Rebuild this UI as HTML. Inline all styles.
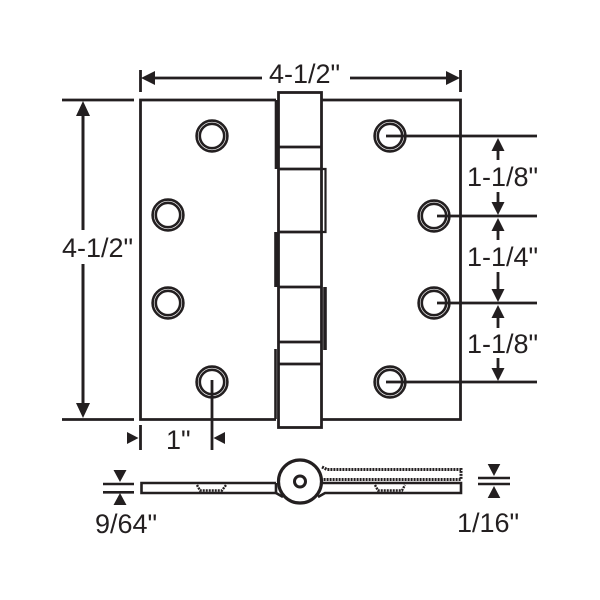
<!DOCTYPE html>
<html><head><meta charset="utf-8"><style>
html,body{margin:0;padding:0;background:#fff}
svg{display:block;filter:blur(.25px)}
text{font-family:"Liberation Sans",sans-serif;font-size:27px;fill:#231f20}
</style></head><body>
<svg width="600" height="600" viewBox="0 0 600 600" xmlns="http://www.w3.org/2000/svg">
<defs>
<g id="h"><circle r="15.4" fill="#fff" stroke="#231f20" stroke-width="2.6"/><circle r="12.2" fill="#fff" stroke="#231f20" stroke-width="2.6"/></g>
</defs>
<g fill="none" stroke="#231f20" stroke-width="2.8">
<path d="M276 100H140.5V419.5H276M322 100H460.5V419.5H322"/>
<path d="M62 100H134M62 419.5H134"/>
<rect x="278.5" y="92.5" width="43" height="335"/>
<path d="M278.5 147H321.5M278.5 169H321.5M278.5 232H321.5M278.5 287H321.5M278.5 342H321.5M278.5 364H321.5" />
<path d="M276.5 100V169M276 232V287" stroke-width="3.6"/>
<path d="M321.5 169H325.5V232H321.5" stroke-width="2.2"/>
<path d="M325 287V350" stroke-width="3.6"/>
<path d="M275.5 349V419" stroke-width="2.6"/>
</g>
<use href="#h" x="212" y="136"/><use href="#h" x="168" y="215"/><use href="#h" x="168" y="303"/><use href="#h" x="212" y="382"/>
<use href="#h" x="390" y="136"/><use href="#h" x="434" y="216"/><use href="#h" x="434" y="303"/><use href="#h" x="390" y="382"/>
<g fill="none" stroke="#231f20" stroke-width="2.8">
<path d="M386 136H537M437 216H537M437 303H537M386 382H537"/>
<path d="M212 380V450M140.5 425V450"/>
<path d="M140.5 70V92M460.5 70V92"/>
<path d="M150 78H262M350 78H450"/>
<path d="M83 112V230M83 264V408" stroke-width="3"/>
<path d="M498 150V160M498 192V204M498 230V240M498 272V290M498 316V328M498 358V370"/>
</g>
<g fill="#231f20">
<path d="M141 78L155 71V85ZM460 78L446 71V85Z"/>
<path d="M83 101L76 116H90ZM83 418L76 403H90Z"/>
<path d="M498 138L491.5 151H504.5ZM498 215L491.5 202H504.5ZM498 218L491.5 231H504.5ZM498 302L491.5 289H504.5ZM498 305L491.5 318H504.5ZM498 381L491.5 368H504.5Z"/>
<path d="M138.5 438L127 432V444ZM213.5 438L225 432V444Z"/>
<path d="M120 482L113.5 470H126.5ZM120 493L113.5 505H126.5Z"/>
<path d="M494 476L487.7 464H500.3ZM494 486L487.7 498H500.3Z"/>
</g>
<g stroke="#231f20" stroke-width="2.6" fill="none">
<path d="M103 484H134M103 492.3H134"/>
<path d="M478 478H510M478 484H510"/>
</g>
<g fill="none" stroke="#231f20" stroke-width="2.6">
<path d="M276 483H141.5V493H276V483"/>
<path d="M276 493L283 497"/>
<circle cx="300" cy="481.5" r="21.5" stroke-width="3.2"/>
<circle cx="300" cy="481.5" r="5.5" stroke-width="3"/>
<path d="M323 483H461V493H325L318 497" stroke-width="2.6"/>
<path d="M322 467L327 469.5H461V479.5H323" stroke-width="3" stroke-dasharray="2 1"/>
<path d="M197 485L200 490.5H222L226 485M375 485L378 490.5H402L405 485" stroke-width="2.4" stroke-dasharray="2 1"/>
</g>
<g>
<text x="269" y="83">4-1/2"</text>
<text x="62" y="257">4-1/2"</text>
<text x="467" y="186">1-1/8"</text>
<text x="467" y="266">1-1/4"</text>
<text x="467" y="353">1-1/8"</text>
<text x="166" y="449">1"</text>
<text x="95" y="533">9/64"</text>
<text x="457" y="532">1/16"</text>
</g>
</svg>
</body></html>
